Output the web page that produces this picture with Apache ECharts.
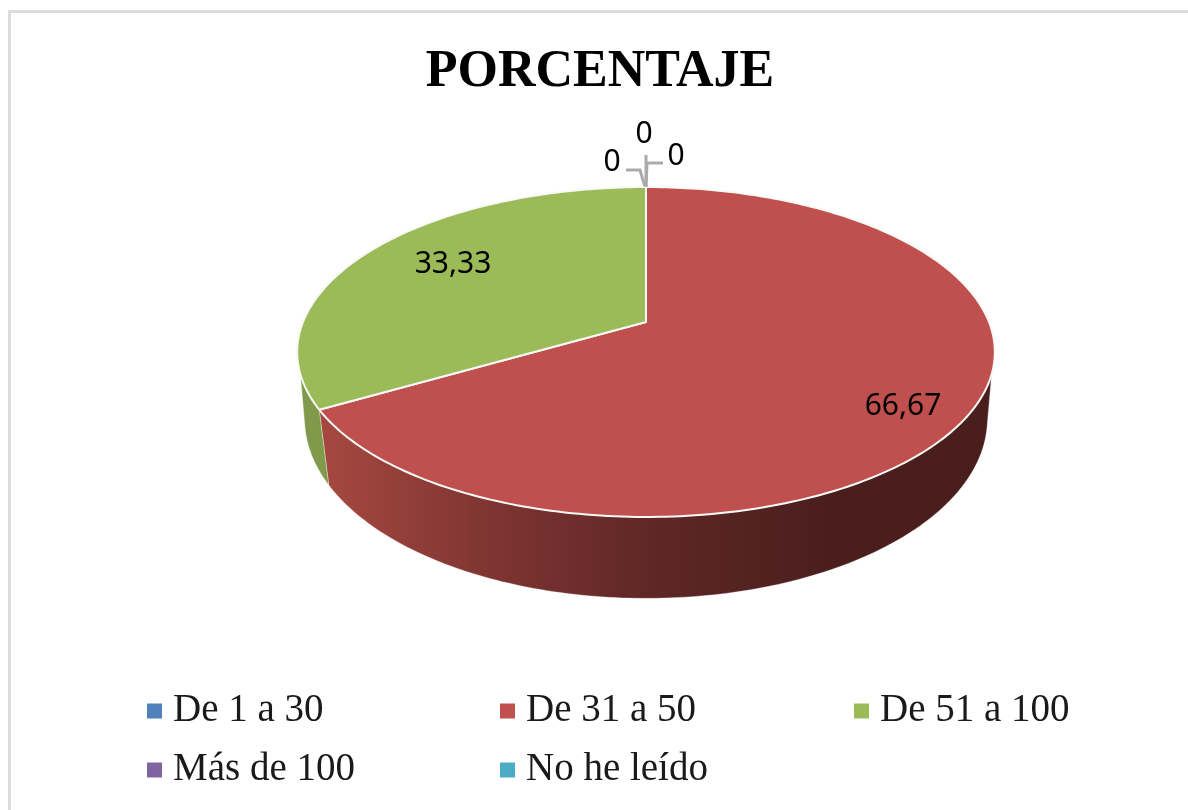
<!DOCTYPE html>
<html>
<head>
<meta charset="utf-8">
<style>html,body{margin:0;padding:0;background:#fff}#c{width:1188px;height:810px}</style>
<script src="https://cdn.jsdelivr.net/npm/echarts@6/dist/echarts.min.js"></script>
</head>
<body>
<div id="c"></div>
<script>
const titleText = 'PORCENTAJE';
const categories = ['De 1 a 30', 'De 31 a 50', 'De 51 a 100', 'Más de 100', 'No he leído'];
const percentages = [0, 66.67, 33.33, 0, 0];
const labelTexts = ['0', '66,67', '33,33', '0', '0'];
const topColors = ['#4F81BD', '#C0504D', '#9BBB59', '#8064A2', '#4BACC6'];

// Perspective of the pie: the top and bottom rims are projected circles.
const topRim = { cx: 646, cy: 322, a: 343, b: 159.5, k: -0.1818 };
const bottomRim = { cx: 646, cy: 390, a: 337, b: 175, k: -0.16 };
const wallFrom = 108, wallTo = 252; // visible part of the wall, degrees clockwise from top
const bottomSlack = 6;              // the bottom rim runs a little further, rounding the wall's sides
const labelPlaces = [[612, 162], [903, 406], [453, 264], [644, 134], [676, 156]];
const leaderLines = [
  [[626, 170], [640, 170], [645, 187]],
  null, null,
  [[646, 155], [646, 187]],
  [[663, 163], [647, 163], [646, 187]]
];
const legendPlaces = [[147, 711], [500, 711], [854, 711], [147, 770], [500, 770]];

const total = percentages.reduce((s, v) => s + v, 0);
const starts = [];
percentages.reduce((s, v, i) => { starts[i] = s; return s + v / total * 360; }, 0);

function project(rim, deg) {
  const t = deg * Math.PI / 180, u = Math.sin(t), v = -Math.cos(t), d = 1 + rim.k * v;
  return [rim.cx + rim.a * u / d, rim.cy + rim.b * v / d];
}
function arc(rim, from, to) {
  const pts = [], n = Math.max(2, Math.ceil(Math.abs(to - from)));
  for (let i = 0; i <= n; i++) pts.push(project(rim, from + (to - from) * i / n));
  return pts;
}
const wallFills = [
  null,
  { type: 'linear', x: 326, y: 0, x2: 830, y2: 0, global: true, colorStops: [
    { offset: 0, color: '#A4483F' }, { offset: 0.35, color: '#7C3331' },
    { offset: 0.65, color: '#5E2725' }, { offset: 1, color: '#4A1E1D' } ] },
  '#81994A', null, null
];

function renderSlice(i, params, api) {
  const value = api.value(0);
  const from = starts[i], to = from + value / total * 360;
  const children = [];
  if (value > 0) {
    const a = Math.max(from, wallFrom), b = Math.min(to, wallTo);
    const a2 = Math.max(from, wallFrom - bottomSlack), b2 = Math.min(to, wallTo + bottomSlack);
    if (b > a) {
      children.push({
        type: 'polygon', silent: true,
        shape: { points: arc(topRim, a, b).concat(arc(bottomRim, b2, a2)) },
        style: { fill: wallFills[i], stroke: 'rgba(255,255,255,0.55)', lineWidth: 0.6 }
      });
    }
    children.push({
      type: 'polygon', silent: true,
      shape: { points: [[topRim.cx, topRim.cy]].concat(arc(topRim, from, to)) },
      style: { fill: topColors[i], stroke: '#F8F8F6', lineWidth: 2, lineJoin: 'round' }
    });
  }
  if (leaderLines[i]) {
    children.push({
      type: 'polyline', silent: true, shape: { points: leaderLines[i] },
      style: { fill: null, stroke: '#ABABAB', lineWidth: 3 }
    });
  }
  children.push({
    type: 'text', silent: true, z2: 10,
    style: {
      text: labelTexts[i], x: labelPlaces[i][0], y: labelPlaces[i][1],
      align: 'center', verticalAlign: 'middle', fill: '#000',
      font: '30px "Noto Sans"'
    }
  });
  return { type: 'group', children };
}

const chart = echarts.init(document.getElementById('c'), null, { renderer: 'canvas' });
chart.setOption({
  animation: false,
  backgroundColor: '#fff',
  title: {
    text: titleText, left: 595, top: 42, textAlign: 'center',
    textStyle: { fontFamily: '"Liberation Serif"', fontWeight: 'bold', fontSize: 52, color: '#000' }
  },
  legend: categories.map((name, i) => ({
    data: [name], left: legendPlaces[i][0], top: legendPlaces[i][1] - 21, icon: 'rect',
    itemWidth: 15, itemHeight: 15, itemGap: 0, padding: 0, selectedMode: false,
    textStyle: { fontFamily: '"Liberation Serif"', fontSize: 39, color: '#1a1a1a', padding: [0, 0, 0, 6], lineHeight: 42 }
  })),
  graphic: [
    { type: 'rect', silent: true, shape: { x: 8, y: 10, width: 3, height: 800 }, style: { fill: '#DCDCDC' } },
    { type: 'rect', silent: true, shape: { x: 8, y: 10, width: 1180, height: 3 }, style: { fill: '#DCDCDC' } }
  ],
  series: categories.map((name, i) => ({
    type: 'custom', name, coordinateSystem: 'none', clip: false,
    itemStyle: { color: topColors[i] },
    renderItem: (params, api) => renderSlice(i, params, api),
    data: [[percentages[i]]]
  }))
});
</script>
</body>
</html>
